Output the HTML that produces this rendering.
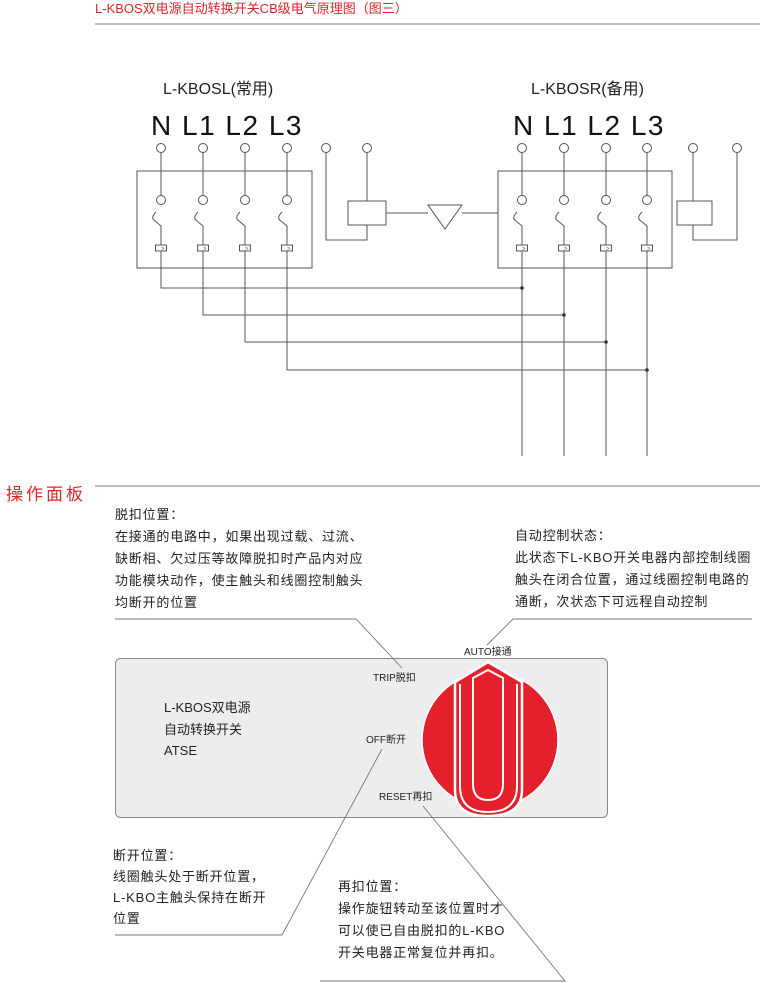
<!DOCTYPE html>
<html><head><meta charset="utf-8"><style>
html,body{margin:0;padding:0;background:#fff;}
svg{display:block;}
text{font-family:"Liberation Sans","Noto Sans CJK SC",sans-serif;}
</style></head><body>
<svg width="760" height="983" viewBox="0 0 760 983" xmlns="http://www.w3.org/2000/svg">
<text x="95" y="13" font-size="13" fill="#e0242b">L-KBOS双电源自动转换开关CB级电气原理图（图三）</text>
<line x1="95" y1="24" x2="760" y2="24" stroke="#999" stroke-width="1.2"/>

<text x="163" y="94" font-size="16" fill="#222">L-KBOSL(常用)</text>
<text x="151" y="135" font-size="28" fill="#111" letter-spacing="1.5">N L1 L2 L3</text>
<text x="531" y="94" font-size="16" fill="#222">L-KBOSR(备用)</text>
<text x="513" y="135" font-size="28" fill="#111" letter-spacing="1.5">N L1 L2 L3</text>

<g fill="none" stroke="#555" stroke-width="1">
<rect x="137" y="171" width="175" height="97"/>
<rect x="498" y="171" width="174" height="97"/>
<g id="col">
<circle cx="161" cy="148" r="4.5"/>
<line x1="161" y1="152.5" x2="161" y2="196"/>
<circle cx="161" cy="200" r="4.5"/>
<path d="M156 212 Q150 218 155 221 L161 226 L161 245"/>
<rect x="155.5" y="245" width="11" height="6"/>
<line x1="161" y1="251" x2="161" y2="268"/>
</g>
<use href="#col" x="42"/><use href="#col" x="84"/><use href="#col" x="126"/>
<use href="#col" x="361"/><use href="#col" x="403"/><use href="#col" x="445"/><use href="#col" x="486"/>
<circle cx="326" cy="148" r="4.5"/><circle cx="367" cy="148" r="4.5"/>
<path d="M326 152.5 V240 H367 V225"/>
<line x1="367" y1="152.5" x2="367" y2="201"/>
<rect x="348" y="201" width="38" height="24"/>
<line x1="386" y1="213" x2="428" y2="213"/>
<path d="M428 205 L462 205 L445 229 Z"/>
<line x1="462" y1="213" x2="498" y2="213"/>
<circle cx="693" cy="148" r="4.5"/><circle cx="737" cy="148" r="4.5"/>
<line x1="693" y1="152.5" x2="693" y2="201"/>
<rect x="677" y="201" width="35" height="24"/>
<path d="M693 225 V240 H737 V152.5"/>
<path d="M161 268 V288 H522"/>
<path d="M203 268 V315 H564"/>
<path d="M245 268 V342 H606"/>
<path d="M287 268 V370 H647"/>
<line x1="522" y1="268" x2="522" y2="456"/>
<line x1="564" y1="268" x2="564" y2="456"/>
<line x1="606" y1="268" x2="606" y2="456"/>
<line x1="647" y1="268" x2="647" y2="456"/>
</g>
<g fill="#555" font-size="6"><text x="161" y="250.5">&gt;</text><text x="203" y="250.5">&gt;</text><text x="245" y="250.5">&gt;</text><text x="287" y="250.5">&gt;</text><text x="522" y="250.5">&gt;</text><text x="564" y="250.5">&gt;</text><text x="606" y="250.5">&gt;</text><text x="647" y="250.5">&gt;</text></g>
<g fill="#333"><circle cx="522" cy="288" r="1.8"/><circle cx="564" cy="315" r="1.8"/><circle cx="606" cy="342" r="1.8"/><circle cx="647" cy="370" r="1.8"/></g>

<text x="6" y="500" font-size="17" fill="#e0242b" letter-spacing="3">操作面板</text>
<line x1="95" y1="486" x2="760" y2="486" stroke="#999" stroke-width="1.2"/>

<g font-size="13" fill="#222" letter-spacing="0.8">
<text x="115" y="519">脱扣位置：</text>
<text x="115" y="541">在接通的电路中，如果出现过载、过流、</text>
<text x="115" y="563">缺断相、欠过压等故障脱扣时产品内对应</text>
<text x="115" y="585">功能模块动作，使主触头和线圈控制触头</text>
<text x="115" y="607">均断开的位置</text>
<text x="515" y="540">自动控制状态：</text>
<text x="515" y="562">此状态下L-KBO开关电器内部控制线圈</text>
<text x="515" y="584">触头在闭合位置，通过线圈控制电路的</text>
<text x="515" y="606">通断，次状态下可远程自动控制</text>
<text x="113" y="860">断开位置：</text>
<text x="113" y="881">线圈触头处于断开位置，</text>
<text x="113" y="902">L-KBO主触头保持在断开</text>
<text x="113" y="923">位置</text>
<text x="338" y="891">再扣位置：</text>
<text x="338" y="913">操作旋钮转动至该位置时才</text>
<text x="338" y="935">可以使已自由脱扣的L-KBO</text>
<text x="338" y="957">开关电器正常复位并再扣。</text>
</g>

<rect x="115.5" y="658.5" width="492" height="159" rx="5" fill="#ededed" stroke="#888" stroke-width="1"/>
<g font-size="13" fill="#222">
<text x="164" y="712">L-KBOS双电源</text>
<text x="164" y="734">自动转换开关</text>
<text x="164" y="755">ATSE</text>
</g>
<g font-size="10" fill="#222">
<text x="464" y="655">AUTO接通</text>
<text x="373" y="681">TRIP脱扣</text>
<text x="366" y="743">OFF断开</text>
<text x="379" y="800">RESET再扣</text>
</g>

<circle cx="490" cy="740" r="68" fill="#e3202b" stroke="#fff" stroke-width="1.5"/>
<path d="M455 682 L488 662 L522 682 L522 790 Q522 816 488 816 Q455 816 455 790 Z" fill="#e3202b" stroke="#fff" stroke-width="2.5"/>
<path d="M460 684 L460 786 Q460 812 488 812 Q517 812 517 786 L517 684" fill="none" stroke="#fff" stroke-width="2"/>
<path d="M473 678 L488 670 L503 678 L503 784 Q503 800 488 800 Q473 800 473 784 Z" fill="#e3202b" stroke="#fff" stroke-width="2"/>

<g fill="none" stroke="#777" stroke-width="0.9">
<path d="M115 619 H356 L402 668"/>
<path d="M487 645 L513 619 H752"/>
<path d="M382 749 L282 935 H115"/>
<path d="M423 806 L565 981 H320"/>
</g>
</svg>
</body></html>
